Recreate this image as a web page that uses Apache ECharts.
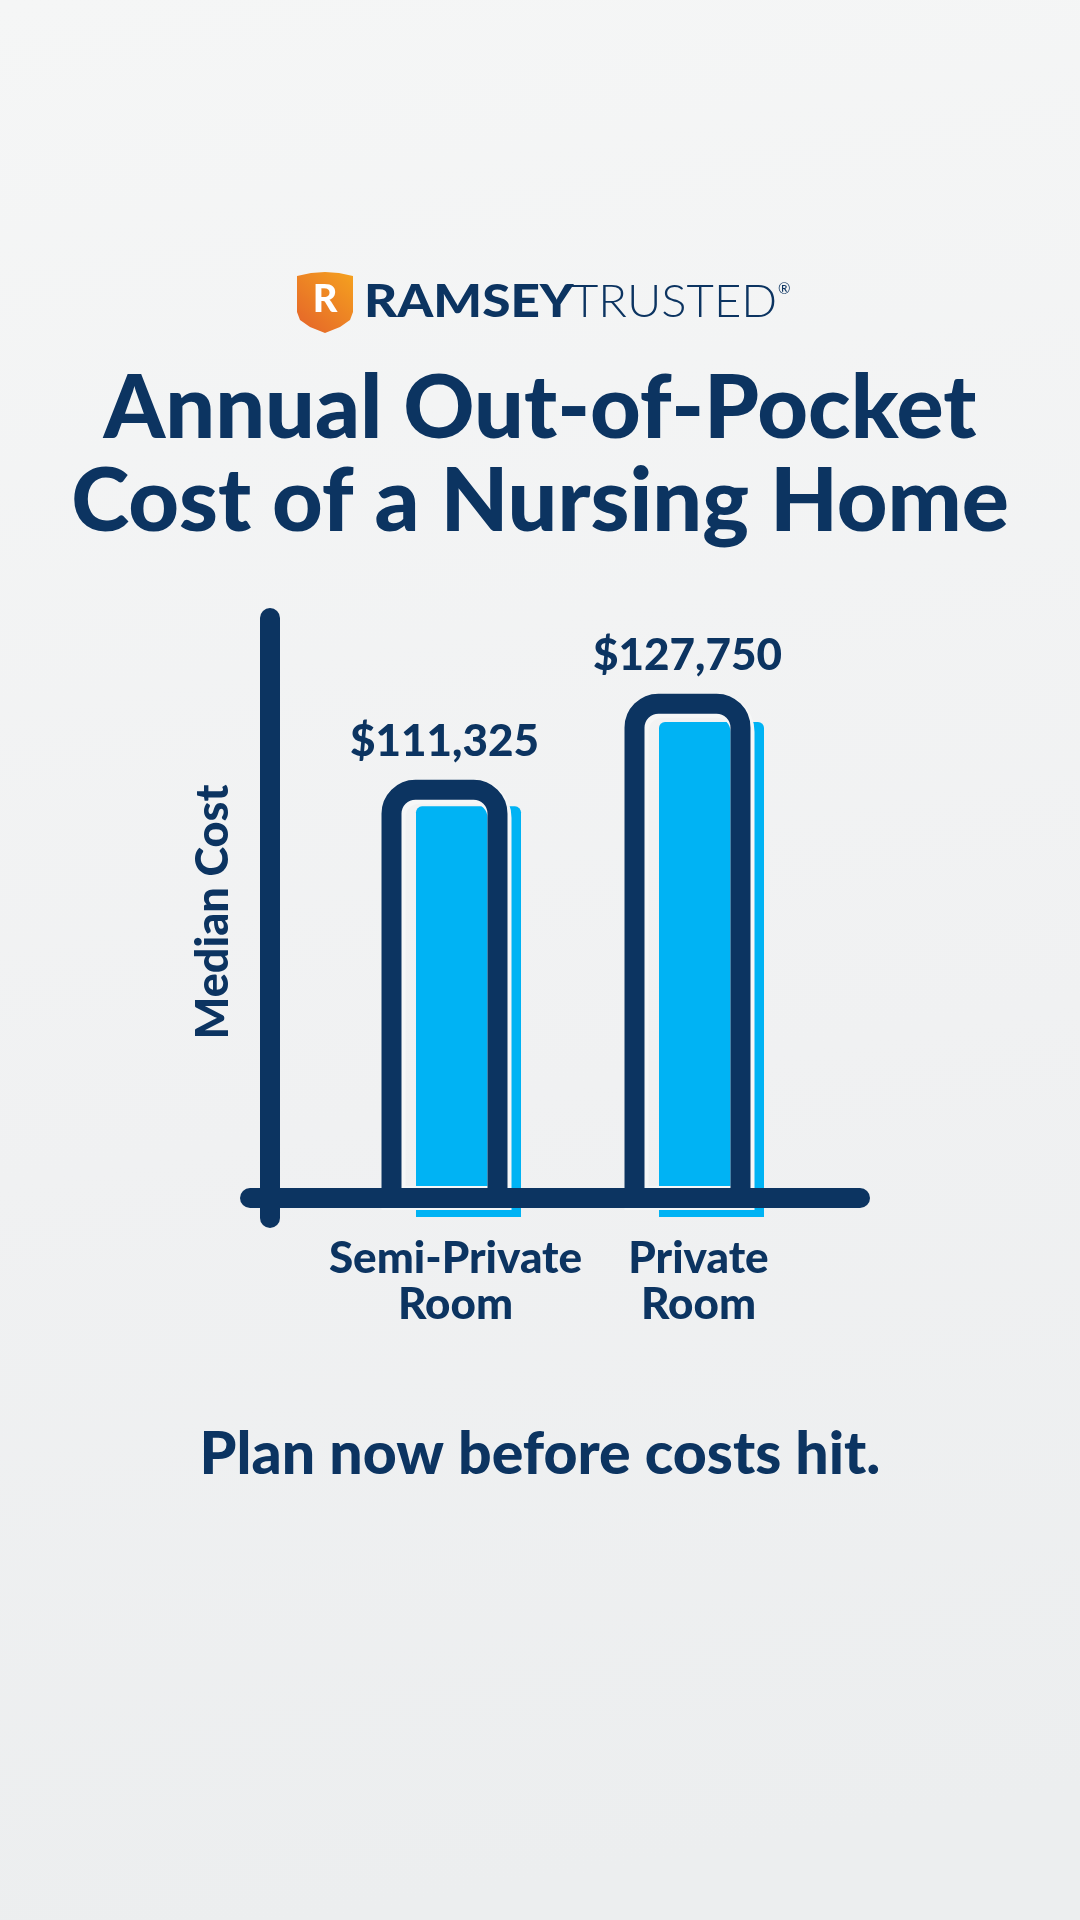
<!DOCTYPE html>
<html>
<head>
    <meta charset="utf-8"/>
    <title>Annual Out-of-Pocket Cost of a Nursing Home</title>
    <style>
        html, body {
            margin: 0;
            padding: 0;
            background: #f1f2f3;
        }
        #chart {
            width: 1080px;
            height: 1920px;
        }
    </style>
</head>
<body>
<div id="chart"></div>
<script src="https://cdn.jsdelivr.net/npm/echarts@6/dist/echarts.min.js"></script>
<script>
    // data
    var categories = ['Semi-Private\nRoom', 'Private\nRoom'];
    var costs = [111325, 127750];
    var costLabels = ['$111,325', '$127,750'];

    var NAVY = '#0c3461';
    var BLUE = '#00b3f4';
    var FONT = 'Lato, "Open Sans", sans-serif';

    var chart = echarts.init(document.getElementById('chart'), null, {renderer: 'canvas'});

    // 手绘风格：深色描边柱 + 偏移的浅蓝填充柱
    var option = {
        backgroundColor: {
            type: 'linear', x: 0, y: 0, x2: 0.3, y2: 1,
            colorStops: [
                {offset: 0, color: '#f5f6f6'},
                {offset: 0.6, color: '#f0f1f2'},
                {offset: 1, color: '#eceeef'}
            ]
        },
        textStyle: {fontFamily: FONT},
        graphic: [{
            // logo 盾牌
            type: 'polygon',
            shape: {
                points: [[297, 276], [311, 273], [325, 272], [339, 273], [353, 276], [353, 312],
                    [350, 320], [340, 327], [325, 333], [310, 327], [300, 320], [297, 312]]
            },
            style: {
                fill: {
                    type: 'linear', x: 1, y: 0, x2: 0, y2: 1,
                    colorStops: [{offset: 0, color: '#f5a21f'}, {offset: 1, color: '#e4622a'}]
                }
            }
        }, {
            type: 'text',
            x: 325, y: 300,
            style: {
                text: 'R', fill: '#ffffff', font: '900 38px ' + FONT,
                textAlign: 'center', textVerticalAlign: 'middle'
            }
        }, {
            type: 'text',
            x: 364, y: 302,
            scaleX: 1.14,
            style: {
                text: 'RAMSEY', fill: NAVY, font: '900 45px ' + FONT,
                textVerticalAlign: 'middle'
            }
        }, {
            type: 'text',
            x: 571, y: 302,
            scaleX: 1.05,
            style: {
                text: 'TRUSTED', fill: NAVY, font: '300 45px ' + FONT,
                textVerticalAlign: 'middle'
            }
        }, {
            type: 'text',
            x: 778, y: 289,
            style: {
                text: '®', fill: NAVY, font: '400 15px ' + FONT,
                textVerticalAlign: 'middle'
            }
        }, {
            // 标题
            type: 'text',
            x: 540, y: 410,
            style: {
                text: 'Annual Out-of-Pocket',
                fill: NAVY, font: '900 88px ' + FONT,
                textAlign: 'center', textVerticalAlign: 'middle'
            }
        }, {
            type: 'text',
            x: 540, y: 503,
            style: {
                text: 'Cost of a Nursing Home',
                fill: NAVY, font: '900 88px ' + FONT,
                textAlign: 'center', textVerticalAlign: 'middle'
            }
        }, {
            type: 'text',
            x: 540, y: 1455,
            style: {
                text: 'Plan now before costs hit.',
                fill: NAVY, font: '900 59px ' + FONT,
                textAlign: 'center', textVerticalAlign: 'middle'
            }
        }],
        grid: [
            // 0: 描边柱
            {left: 323, right: 271, top: 598, bottom: 722},
            // 1: 填充柱（右下偏移）
            {left: 347, right: 247, top: 628, bottom: 703},
            // 2: 坐标轴线
            {left: 250, right: 220, top: 618, bottom: 702}
        ],
        xAxis: [{
            gridIndex: 0,
            type: 'category',
            data: categories,
            axisLine: {show: false},
            axisTick: {show: false},
            axisLabel: {
                interval: 0,
                color: NAVY,
                fontSize: 44,
                fontWeight: 900,
                lineHeight: 46,
                margin: 38,
                padding: [0, 0, 0, 22],
                fontFamily: FONT
            }
        }, {
            gridIndex: 1,
            type: 'category',
            data: categories,
            show: false
        }, {
            gridIndex: 2,
            type: 'value',
            min: -20,
            max: 590,
            z: 10,
            splitLine: {show: false},
            axisTick: {show: false},
            axisLabel: {show: false},
            axisLine: {onZero: true, lineStyle: {color: NAVY, width: 20, cap: 'round'}}
        }],
        yAxis: [{
            gridIndex: 0,
            type: 'value',
            min: 31500,
            max: 146000,
            startValue: 0,
            show: false
        }, {
            gridIndex: 1,
            type: 'value',
            min: 31500,
            max: 146000,
            startValue: 0,
            show: false
        }, {
            gridIndex: 2,
            type: 'value',
            min: -20,
            max: 580,
            z: 10,
            name: 'Median Cost',
            nameLocation: 'middle',
            nameRotate: 90,
            nameGap: 14,
            nameTextStyle: {
                color: NAVY, fontSize: 45, fontWeight: 900, fontFamily: FONT,
                padding: [0, 0, 0, 12]
            },
            splitLine: {show: false},
            axisTick: {show: false},
            axisLabel: {show: false},
            axisLine: {onZero: true, lineStyle: {color: NAVY, width: 20, cap: 'round'}}
        }],
        series: [{
            name: 'fill',
            type: 'bar',
            xAxisIndex: 1,
            yAxisIndex: 1,
            data: costs,
            barWidth: 105,
            silent: true,
            itemStyle: {color: BLUE, borderRadius: [6, 6, 0, 0]}
        }, {
            name: 'halo',
            type: 'bar',
            xAxisIndex: 0,
            yAxisIndex: 0,
            data: costs,
            barWidth: 130,
            silent: true,
            itemStyle: {
                color: 'rgba(0,0,0,0)',
                borderColor: '#f6f7f7',
                borderWidth: 24,
                borderRadius: [26, 26, 0, 0]
            }
        }, {
            name: 'outline',
            type: 'bar',
            xAxisIndex: 0,
            yAxisIndex: 0,
            data: costs,
            barWidth: 126,
            barGap: '-100%',
            itemStyle: {
                color: 'rgba(0,0,0,0)',
                borderColor: NAVY,
                borderWidth: 20,
                borderRadius: [24, 24, 0, 0]
            },
            label: {
                show: true,
                position: 'top',
                distance: 16,
                color: NAVY,
                fontSize: 44,
                fontWeight: 900,
                fontFamily: FONT,
                formatter: function (p) {
                    return costLabels[p.dataIndex];
                }
            }
        }]
    };

    chart.setOption(option);

    window.onresize = function () {
        chart.resize();
    };
</script>
</body>
</html>
